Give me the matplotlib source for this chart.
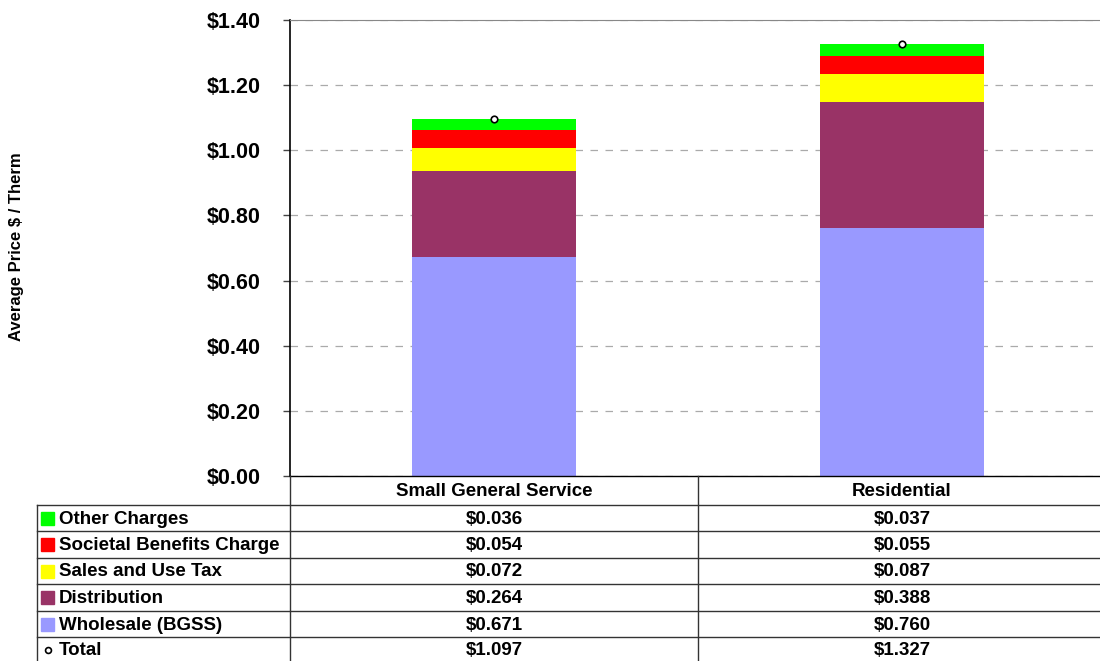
import numpy as np
import matplotlib.pyplot as plt

# rate classes and price components ($ / therm)
classes = ['Small General Service', 'Residential']
components = ['Wholesale (BGSS)', 'Distribution', 'Sales and Use Tax',
              'Societal Benefits Charge', 'Other Charges']
wholesale = [0.671, 0.760]
distribution = [0.264, 0.388]
sales_tax = [0.072, 0.087]
sbc = [0.054, 0.055]
other = [0.036, 0.037]
total = [1.097, 1.327]
colors = ['#9999FF', '#993366', '#FFFF00', '#FF0000', '#00FF00']

series = [wholesale, distribution, sales_tax, sbc, other]

W, H = 1100, 661
fig = plt.figure(figsize=(W / 100, H / 100), dpi=100)
plt.rcParams['font.family'] = ['Liberation Sans', 'DejaVu Sans']

ax = fig.add_axes([290 / W, 1 - 476 / H, 816 / W, 456 / H])
x = np.arange(len(classes))
bottom = np.zeros(len(classes))
for vals, c in zip(series, colors):
    ax.bar(x, vals, width=0.403, bottom=bottom, color=c, zorder=2)
    bottom += np.array(vals)
ax.scatter(x, total, s=22, facecolor='white', edgecolor='black',
           linewidth=1.2, zorder=4)

ax.set_xlim(-0.5, len(classes) - 0.5)
ax.set_ylim(0, 1.4)
ax.set_yticks(np.arange(0, 1.41, 0.2))
ax.set_yticklabels(['${:.2f}'.format(v) for v in np.arange(0, 1.41, 0.2)],
                   fontsize=15.5, fontweight='bold')
ax.set_xticks([])
ax.yaxis.grid(True, linestyle=(0, (6, 6)), color='#AAAAAA', linewidth=0.9, zorder=0)
ax.tick_params(axis='y', length=5, width=1, pad=16, color='#444444')
ax.spines['right'].set_visible(False)
ax.spines['top'].set_color('#888888')
ax.spines['left'].set_linewidth(1.2)
ax.spines['bottom'].set_linewidth(1.0)
fig.text(17 / W, 1 - 247 / H, 'Average Price $ / Therm', rotation=90,
         ha='center', va='center', fontsize=12, fontweight='bold')

# data table under the chart, drawn in pixel coordinates
tab = fig.add_axes([0, 0, 1, 1])
tab.set_xlim(0, W)
tab.set_ylim(H, 0)
tab.axis('off')

col_x = [37, 290, 698, 1106]
row_y = [476, 505, 531, 558, 584, 611, 637, 664]
fs = 13.5
lc = '#333333'
for y in row_y[1:-1]:
    tab.plot([col_x[0], col_x[-1]], [y, y], color=lc, lw=1)
tab.plot([col_x[0], col_x[0]], [row_y[1], H], color=lc, lw=1)
for cx in col_x[1:3]:
    tab.plot([cx, cx], [row_y[0], H], color=lc, lw=1)

for j, name in enumerate(classes):
    cx = (col_x[j + 1] + col_x[j + 2]) / 2
    tab.text(cx, (row_y[0] + row_y[1]) / 2 + 1, name, ha='center', va='center',
             fontsize=fs, fontweight='bold')

rows = list(zip(components, series, colors))[::-1]
for i, (name, vals, c) in enumerate(rows):
    yc = (row_y[i + 1] + row_y[i + 2]) / 2
    tab.add_patch(plt.Rectangle((41, yc - 6.5), 13, 13, color=c))
    tab.text(59, yc + 1, name, ha='left', va='center', fontsize=fs, fontweight='bold')
    for j, v in enumerate(vals):
        cx = (col_x[j + 1] + col_x[j + 2]) / 2
        tab.text(cx, yc + 1, '${:.3f}'.format(v), ha='center', va='center',
                 fontsize=fs, fontweight='bold')

yc = (row_y[6] + row_y[7]) / 2 - 1
tab.scatter([47.5], [yc], s=18, facecolor='white', edgecolor='black', linewidth=1.2)
tab.text(59, yc + 1, 'Total', ha='left', va='center', fontsize=fs, fontweight='bold')
for j, v in enumerate(total):
    cx = (col_x[j + 1] + col_x[j + 2]) / 2
    tab.text(cx, yc + 1, '${:.3f}'.format(v), ha='center', va='center',
             fontsize=fs, fontweight='bold')

fig.savefig('out.png', dpi=100)
